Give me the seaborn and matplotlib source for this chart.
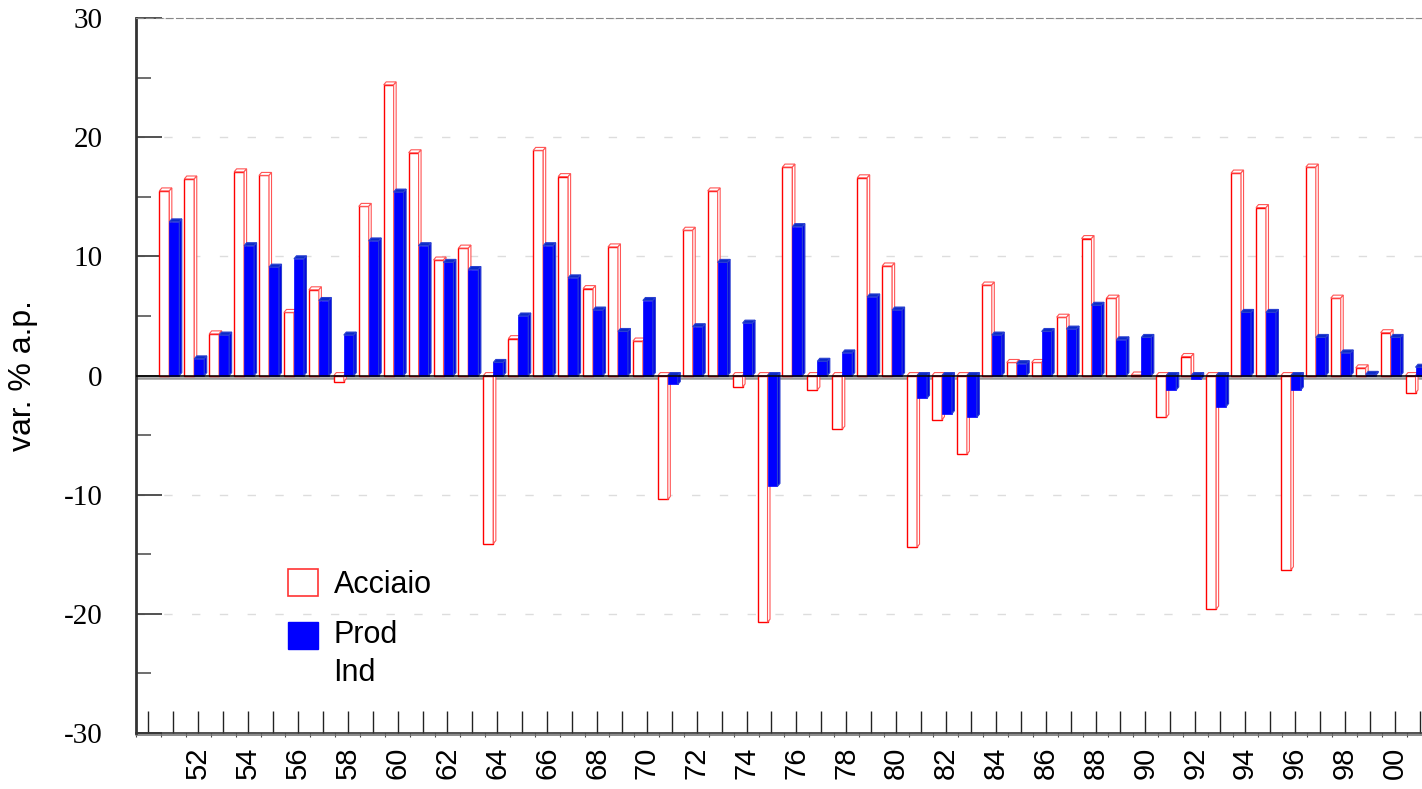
import numpy as np
import pandas as pd
import matplotlib
matplotlib.use("Agg")
import matplotlib.pyplot as plt
from matplotlib.patches import Patch, Polygon
import seaborn as sns

# anni 1951-2001, variazioni % annue
anni = list(range(1951, 2002))
acciaio = [15.5, 16.5, 3.5, 17.1, 16.8, 5.3, 7.2, -0.5, 14.2, 24.4,
           18.7, 9.7, 10.7, -14.1, 3.1, 18.9, 16.7, 7.3, 10.8, 2.9,
           -10.4, 12.2, 15.5, -0.95, -20.7, 17.5, -1.2, -4.5, 16.6, 9.2,
           -14.4, -3.7, -6.6, 7.6, 1.1, 1.1, 4.9, 11.5, 6.5, 0.05,
           -3.5, 1.6, -19.6, 17.0, 14.1, -16.3, 17.5, 6.5, 0.65, 3.6,
           -1.45]
prod_ind = [12.9, 1.4, 3.4, 10.9, 9.1, 9.8, 6.3, 3.4, 11.3, 15.4,
            10.9, 9.5, 8.9, 1.1, 5.0, 10.9, 8.2, 5.5, 3.7, 6.3,
            -0.75, 4.1, 9.5, 4.4, -9.3, 12.5, 1.2, 1.9, 6.6, 5.5,
            -1.9, -3.2, -3.5, 3.4, 1.0, 3.7, 3.9, 5.9, 3.0, 3.2,
            -1.2, -0.3, -2.6, 5.3, 5.3, -1.2, 3.2, 1.9, 0.1, 3.2,
            0.7]
serie = ["Acciaio", "Prod Ind"]

df = pd.DataFrame({
    "anno": anni * 2,
    "valore": acciaio + prod_ind,
    "serie": [serie[0]] * len(anni) + [serie[1]] * len(anni),
})

sns.set_style("white")
plt.rcParams["axes.unicode_minus"] = False
plt.rcParams["font.family"] = ["Liberation Sans", "DejaVu Sans"]
plt.rcParams["text.color"] = "black"
plt.rcParams["xtick.color"] = "black"
plt.rcParams["ytick.color"] = "black"
plt.rcParams["axes.labelcolor"] = "black"

fig = plt.figure(figsize=(14.22, 7.89), dpi=100)
ax = fig.add_axes([0.0956, 0.071, 0.9044, 0.906])

sns.barplot(data=df, x="anno", y="valore", hue="serie", hue_order=serie,
            palette=["red", "blue"], native_scale=True, width=0.8,
            dodge=True, ax=ax, legend=False, errorbar=None)

# finto effetto 3D: faccia superiore e laterale di ogni barra
dx, dy = 0.1, 0.25
for i, cont in enumerate(ax.containers):
    for p in cont:
        p.set_x(p.get_x() - 0.16)
        x0, w = p.get_x(), p.get_width()
        top = max(p.get_y(), p.get_y() + p.get_height())
        bot = min(p.get_y(), p.get_y() + p.get_height())
        if i == 0:
            p.set_facecolor("white")
            p.set_edgecolor("#FF0000")
            p.set_linewidth(1.0)
            p.set_zorder(2)
            fc_top, fc_side, ec, z = "white", "white", "#FF5555", 2.05
        else:
            p.set_facecolor("#0000FF")
            p.set_edgecolor("#0000FF")
            p.set_linewidth(0.5)
            p.set_zorder(3)
            fc_top, fc_side, ec, z = "#0A2AC8", "#0000E6", "#2A40D0", 3.05
        ax.add_patch(Polygon([(x0, top), (x0 + dx, top + dy), (x0 + w + dx, top + dy), (x0 + w, top)],
                             closed=True, facecolor=fc_top, edgecolor=ec, lw=0.8, zorder=z))
        ax.add_patch(Polygon([(x0 + w, bot), (x0 + w + dx, bot + dy), (x0 + w + dx, top + dy), (x0 + w, top)],
                             closed=True, facecolor=fc_side, edgecolor=ec, lw=0.8, zorder=z))

ax.axhline(0, color="black", lw=1.1, zorder=5)
ax.axhline(-0.2, color="#9A9A9A", lw=1.8, zorder=1.5)

ax.set_xlim(1949.5, 2001.1)
ax.set_ylim(-30, 30)

tick_anni = [anni[0] - 1] + anni
ax.set_xticks(tick_anni)
ax.set_xticklabels([str(a % 100).zfill(2) if a % 2 == 0 and a > anni[0] else "" for a in tick_anni])
ax.set_xticks([a + 0.5 for a in range(1949, 2001)], minor=True)
ax.tick_params(axis="x", which="major", bottom=True, direction="in", length=16, width=1,
               labelsize=21, labelrotation=90, pad=10, color="#222222")
ax.tick_params(axis="x", which="minor", bottom=True, direction="out", length=3, width=0.8,
               color="#444444")

ax.set_yticks(range(-30, 31, 10))
ax.set_yticks(range(-25, 30, 10), minor=True)
ax.tick_params(axis="y", which="major", left=True, direction="in", length=19, width=1.2,
               pad=24, color="#333333")
ax.tick_params(axis="y", which="minor", left=True, direction="in", length=11, width=1.2,
               color="#555555")
for t in ax.get_yticklabels():
    t.set_fontfamily("Liberation Serif")
    t.set_fontsize(21)

ax.yaxis.grid(True, color="#DDDDDD", linestyle=(0, (6, 14)), lw=1)
ax.set_axisbelow(True)

ax.spines["right"].set_visible(False)
ax.spines["left"].set_linewidth(2)
ax.spines["left"].set_color("#333333")
ax.spines["bottom"].set_color("#333333")
ax.spines["bottom"].set_linewidth(1.2)
ax.spines["top"].set_linestyle((0, (6, 3)))
ax.spines["top"].set_color("#888888")
ax.axhline(-30.2, color="#777777", lw=1.2, clip_on=False)

ax.set_xlabel("")
ax.set_ylabel("var. % a.p.", fontsize=23)
ax.yaxis.set_label_coords(-0.076, 0.5)

handles = [Patch(facecolor="white", edgecolor="#FF3333", lw=1.2),
           Patch(facecolor="#0000FF", edgecolor="#0000FF")]
leg = ax.legend(handles, ["Acciaio", "Prod\nInd"], loc="upper left",
                bbox_to_anchor=(0.0966, 0.268), frameon=False, fontsize=22,
                handlelength=1.0, handleheight=1.0, handletextpad=0.5,
                labelspacing=0.66)
leg.get_texts()[1].set_linespacing(1.35)
# il quadratino blu allineato alla prima riga ("Prod")
h = leg.legend_handles[1]
h.set_y(h.get_y() + 14)

fig.savefig("out.png", dpi=100)
